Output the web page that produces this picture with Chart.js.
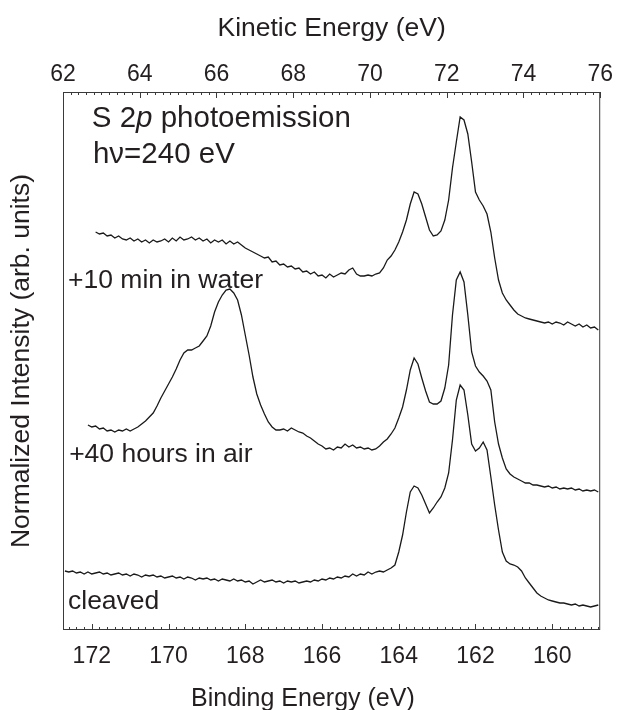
<!DOCTYPE html>
<html>
<head>
<meta charset="utf-8">
<title>S 2p photoemission</title>
<script src="https://cdn.jsdelivr.net/npm/chart.js@4.4.1/dist/chart.umd.min.js"></script>
<style>
	html, body { margin: 0; padding: 0; background: #fff; }
	#sp-chart { display: block; }
</style>
</head>
<body>
<canvas id="sp-chart" width="617" height="710"></canvas>
<script>
/* global Chart */

// ── Data ──────────────────────────────────────────────────────────────────
// Binding energy grid (eV), shared by all three spectra.
var bindingEnergy = [
	172.7, 172.6, 172.5, 172.4, 172.3, 172.2, 172.1, 172.0, 171.9, 171.8,
	171.7, 171.6, 171.5, 171.4, 171.3, 171.2, 171.1, 171.0, 170.9, 170.8,
	170.7, 170.6, 170.5, 170.4, 170.3, 170.2, 170.1, 170.0, 169.9, 169.8,
	169.7, 169.6, 169.5, 169.4, 169.3, 169.2, 169.1, 169.0, 168.9, 168.8,
	168.7, 168.6, 168.5, 168.4, 168.3, 168.2, 168.1, 168.0, 167.9, 167.8,
	167.7, 167.6, 167.5, 167.4, 167.3, 167.2, 167.1, 167.0, 166.9, 166.8,
	166.7, 166.6, 166.5, 166.4, 166.3, 166.2, 166.1, 166.0, 165.9, 165.8,
	165.7, 165.6, 165.5, 165.4, 165.3, 165.2, 165.1, 165.0, 164.9, 164.8,
	164.7, 164.6, 164.5, 164.4, 164.3, 164.2, 164.1, 164.0, 163.9, 163.8,
	163.7, 163.6, 163.5, 163.4, 163.3, 163.2, 163.1, 163.0, 162.9, 162.8,
	162.7, 162.6, 162.5, 162.4, 162.3, 162.2, 162.1, 162.0, 161.9, 161.8,
	161.7, 161.6, 161.5, 161.4, 161.3, 161.2, 161.1, 161.0, 160.9, 160.8,
	160.7, 160.6, 160.5, 160.4, 160.3, 160.2, 160.1, 160.0, 159.9, 159.8,
	159.7, 159.6, 159.5, 159.4, 159.3, 159.2, 159.1, 159.0, 158.9, 158.8
];

// "+10 min in water" (offset spectrum, arb. units)
var waterCounts = [
	null, null, null, null, null, null, null, null, 398, 396,
	397, 394, 395, 392, 394, 391, 390, 392, 389, 391,
	388, 390, 387, 390, 388, 389, 391, 388, 392, 389,
	393, 390, 391, 393, 390, 392, 389, 391, 387, 390,
	388, 390, 386, 389, 386, 388, 385, 382, 380, 378,
	376, 374, 372, 373, 368, 369, 365, 366, 363, 364,
	361, 362, 358, 359, 356, 358, 354, 355, 352, 356,
	353, 355, 357, 356, 360, 362, 356, 354, 354, 355,
	354, 356, 357, 362, 370, 374, 380, 388, 398, 410,
	426, 438, 436, 426, 413, 400, 394, 395, 399, 410,
	430, 462, 488, 513, 510, 496, 468, 438, 430, 424,
	416, 398, 372, 350, 337, 330, 325, 320, 316, 314,
	312, 311, 310, 309, 308, 307, 308, 306, 308, 307,
	305, 308, 306, 304, 306, 303, 305, 302, 303, 300
];

// "+40 hours in air"
var airCounts = [
	null, null, null, null, null, null, 205, 203, 204, 201,
	202, 199, 200, 198, 200, 199, 201, 199, 201, 203,
	206, 209, 213, 217, 224, 232, 239, 246, 253, 261,
	270, 277, 280, 280, 282, 284, 289, 294, 304, 318,
	328, 335, 340, 341, 337, 330, 315, 295, 275, 253,
	236, 225, 216, 208, 203, 200, 200, 201, 199, 202,
	200, 198, 197, 194, 192, 189, 186, 184, 181, 182,
	180, 183, 182, 186, 183, 185, 182, 183, 181, 182,
	180, 181, 184, 188, 191, 196, 202, 212, 223, 240,
	260, 272, 266, 252, 239, 228, 226, 226, 229, 242,
	265, 315, 350, 358, 348, 315, 278, 264, 258, 254,
	249, 240, 208, 186, 172, 161, 156, 153, 151, 149,
	147, 147, 145, 145, 144, 143, 144, 142, 143, 141,
	142, 141, 142, 140, 141, 139, 140, 139, 140, 138
];

// "cleaved"
var cleavedCounts = [
	59, 58, 59, 57, 58, 56, 58, 56, 57, 58,
	56, 57, 55, 56, 57, 55, 56, 54, 56, 55,
	53, 55, 54, 55, 53, 54, 52, 53, 54, 52,
	53, 51, 53, 52, 50, 52, 51, 52, 50, 51,
	49, 51, 50, 49, 51, 49, 50, 48, 49, 46,
	48, 50, 48, 49, 50, 48, 49, 47, 49, 48,
	49, 47, 48, 49, 48, 50, 49, 51, 50, 52,
	51, 53, 52, 54, 53, 56, 54, 56, 55, 58,
	56, 58, 59, 58, 60, 62, 65, 78, 95, 118,
	138, 144, 142, 135, 126, 117, 122, 128, 133, 142,
	157, 190, 230, 245, 240, 215, 186, 179, 182, 188,
	180, 153, 125, 100, 78, 69, 66, 65, 63, 59,
	52, 47, 42, 37, 34, 32, 30, 29, 28, 27,
	27, 26, 25, 26, 24, 25, 24, 23, 24, 25
];

var beTicks = [ 172, 170, 168, 166, 164, 162, 160 ];
var keTicks = [ 62, 64, 66, 68, 70, 72, 74, 76 ];

// Photon energy minus work function: KE = 234.75 - BE
var beRange = [ 158.75, 172.75 ];
var keRange = [ 62, 76 ];

// Text labels inside the frame, anchored in data units (BE, intensity)
var traceLabels = [
	{ text: '+10 min in water', be: 172.62, y: 342 },
	{ text: '+40 hours in air', be: 172.59, y: 168 },
	{ text: 'cleaved',          be: 172.62, y: 21 }
];

( function () {
	'use strict';

	var FONT    = "'Liberation Sans', Arial, Helvetica, sans-serif";
	var INK     = '#231f20';
	var LINE    = '#1a1a1a';

	// ── Helpers ───────────────────────────────────────────────────────────

	function toPoints( values ) {
		var pts = [];
		for ( var i = 0; i < bindingEnergy.length; i++ ) {
			if ( values[ i ] !== null ) {
				pts.push( { x: bindingEnergy[ i ], y: values[ i ] } );
			}
		}
		return pts;
	}

	function fixedTicks( list ) {
		return function ( axis ) {
			axis.ticks = list.map( function ( v ) { return { value: v }; } );
		};
	}

	function spectrum( label, values ) {
		return {
			label       : label,
			data        : toPoints( values ),
			borderColor : LINE,
			borderWidth : 1.3,
			pointRadius : 0,
			tension     : 0,
			fill        : false
		};
	}

	// ── Frame, inward ticks and labels ────────────────────────────────────

	var framePlugin = {
		id : 'spFrame',
		afterDraw : function ( chart ) {
			var ctx = chart.ctx;
			var a   = chart.chartArea;
			var be  = chart.scales.x;
			var ke  = chart.scales.x2;
			var y   = chart.scales.y;
			var i, v, px, len;

			ctx.save();
			ctx.strokeStyle = '#3a3a3a';
			ctx.lineWidth   = 1;
			ctx.strokeRect( a.left + 0.5, a.top + 0.5, a.right - a.left - 1, a.bottom - a.top - 1 );

			// bottom: every 0.2 eV, long at every 2 eV
			ctx.beginPath();
			for ( i = 794; i <= 863; i++ ) {
				v   = i / 5;
				px  = Math.round( be.getPixelForValue( v ) ) + 0.5;
				len = ( i % 10 === 0 ) ? 6 : 3;
				ctx.moveTo( px, a.bottom );
				ctx.lineTo( px, a.bottom - len );
			}
			// top: kinetic energy
			for ( i = 310; i <= 380; i++ ) {
				v   = i / 5;
				px  = Math.round( ke.getPixelForValue( v ) ) + 0.5;
				len = ( i % 10 === 0 ) ? 6 : 3;
				ctx.moveTo( px, a.top );
				ctx.lineTo( px, a.top + len );
			}
			ctx.stroke();

			ctx.fillStyle    = INK;
			ctx.textAlign    = 'left';
			ctx.textBaseline = 'alphabetic';

			// S 2p photoemission, with an italic p
			var big = '29.5px ' + FONT;
			var x0  = be.getPixelForValue( 172.0 );
			var y0  = y.getPixelForValue( 503 );
			ctx.font = big;
			ctx.fillText( 'S 2', x0, y0 );
			x0 += ctx.measureText( 'S 2' ).width;
			ctx.font = 'italic ' + big;
			ctx.fillText( 'p', x0, y0 );
			x0 += ctx.measureText( 'p' ).width;
			ctx.font = big;
			ctx.fillText( ' photoemission', x0, y0 );

			ctx.fillText( 'h\u03bd=240 eV', be.getPixelForValue( 171.97 ), y.getPixelForValue( 467 ) );

			ctx.font = '26.5px ' + FONT;
			traceLabels.forEach( function ( t ) {
				ctx.fillText( t.text, be.getPixelForValue( t.be ), y.getPixelForValue( t.y ) );
			} );

			// bottom axis title sits left of centre in the original
			ctx.font = '25px ' + FONT;
			ctx.fillText( 'Binding Energy (eV)', 191, 706 );

			ctx.restore();
		}
	};

	// ── Chart ─────────────────────────────────────────────────────────────

	function init() {
		var tickFont = { family: FONT, size: 23 };
		var ctx      = document.getElementById( 'sp-chart' ).getContext( '2d' );

		new Chart( ctx, {
			type : 'line',
			data : {
				datasets : [
					spectrum( '+10 min in water', waterCounts ),
					spectrum( '+40 hours in air', airCounts ),
					spectrum( 'cleaved', cleavedCounts )
				]
			},
			options : {
				responsive  : false,
				animation   : false,
				devicePixelRatio : 1,
				layout      : { padding: { top: 0, right: 16, bottom: 0, left: 0 } },
				plugins     : {
					legend  : { display: false },
					tooltip : { enabled: false }
				},
				scales : {
					x : {
						type     : 'linear',
						position : 'bottom',
						reverse  : true,
						min      : beRange[ 0 ],
						max      : beRange[ 1 ],
						afterBuildTicks : fixedTicks( beTicks ),
						afterFit : function ( s ) { s.height = 80; },
						grid     : { display: false, drawTicks: false },
						border   : { display: false },
						ticks    : { font: tickFont, color: INK, padding: 13, maxRotation: 0, autoSkip: false }
					},
					x2 : {
						type     : 'linear',
						position : 'top',
						min      : keRange[ 0 ],
						max      : keRange[ 1 ],
						afterBuildTicks : fixedTicks( keTicks ),
						afterFit : function ( s ) { s.height = 92; },
						grid     : { display: false, drawTicks: false },
						border   : { display: false },
						ticks    : { font: tickFont, color: INK, padding: 4, maxRotation: 0, autoSkip: false },
						title    : {
							display : true,
							text    : 'Kinetic Energy (eV)',
							color   : INK,
							font    : { family: FONT, size: 26.5 },
							padding : { top: 13, bottom: 0 }
						}
					},
					y : {
						type     : 'linear',
						position : 'left',
						min      : 0,
						max      : 538,
						afterFit : function ( s ) { s.width = 63; },
						grid     : { display: false, drawTicks: false },
						border   : { display: false },
						ticks    : { display: false },
						title    : {
							display : true,
							text    : 'Normalized Intensity (arb. units)',
							color   : INK,
							font    : { family: FONT, size: 26.5 },
							padding : { top: 6, bottom: 0 }
						}
					}
				}
			},
			plugins : [ framePlugin ]
		} );
	}

	init();
}() );
</script>
</body>
</html>
